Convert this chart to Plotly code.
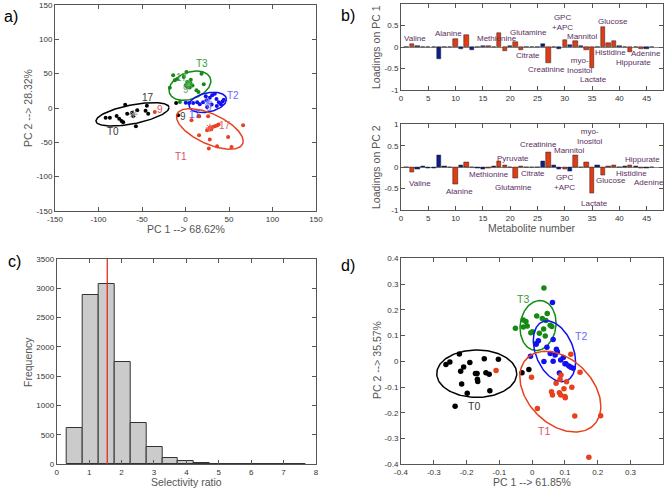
import numpy as np
import plotly.graph_objects as go

# ---------------- Panel a: PCA scores (PC1 68.62 %, PC2 28.32 %) ----------------
a_t0_x = [-91.8, -86.9, -79.2, -76.2, -73.5, -71.6, -69.3, -67.0, -61.2, -60.1, -57.0, -55.5, -45.9, -44.4, -42.9, -10.8, -8.5]
a_t0_y = [-14.1, -14.1, -11.7, -15.5, -18.9, -20.9, 4.9, -8.3, -6.8, -11.7, -26.7, -3.4, -3.9, 3.4, -8.3, 7.3, -10.6]
a_t3_x = [-18.0, -14.2, -12.3, -9.7, -2.0, 1.1, 1.9, 4.1, 5.7, 6.1, 0.3, 1.9, 4.9, 8.0, 12.6, 14.9, 18.4, 21.0, -6.5]
a_t3_y = [29.6, 47.6, 40.3, 41.8, 45.1, 52.4, 37.8, 35.5, 36.4, 41.3, 33.0, 30.6, 29.7, 32.6, 25.8, 23.3, 50.0, 34.5, 8.7]
a_t2_x = [0.3, 4.1, 8.8, 13.4, 16.4, 20.2, 24.1, 27.9, 30.6, 33.7, 35.6, 38.3, 40.6, 42.5, 24.8, 15.6, 23.3, 30.0, 36.0, 44.0]
a_t2_y = [7.8, 7.3, 7.3, 8.3, 5.4, 8.3, 11.2, 15.1, 18.5, 20.9, 13.1, 8.3, 5.4, 9.3, 1.5, -12.1, 17.0, 5.0, 3.0, 12.0]
a_t1_x = [-35.3, 6.9, 15.3, 26.0, 15.6, 24.8, 27.9, 31.0, 33.7, 36.0, 27.9, 36.3, 52.9, 49.0, 66.2, 26.8, 29.5, 38.0]
a_t1_y = [-5.8, -17.9, -12.1, -12.1, -39.7, -32.5, -28.5, -27.6, -26.6, -25.5, -46.0, -55.7, -56.7, -42.2, -25.2, -59.1, -31.0, -24.0]
a_means_x = [-60.0, 28.0, 26.0, 4.0]
a_means_y = [-9.0, -29.0, 9.0, 35.0]
# ellipse: centre x, centre y, sd x, sd y, correlation
a_ell = {"T0": (-60.9, -9.2, 42.0, 17.0, 0.57), "T1": (28.0, -30.5, 38.3, 29.6, -0.6),
         "T2": (25.6, 8.1, 21.5, 14.8, 0.3), "T3": (5.1, 32.5, 24.0, 21.3, 0.32)}
a_group_labels = ["T0", "T1", "T2", "T3"]
a_group_label_x = [-83.8, -5.7, 54.7, 18.4]
a_group_label_y = [-34.0, -70.3, 18.5, 64.6]
a_sample_labels = ["17", "9", "9", "17", "9", "17", "9", "17"]
a_sample_x = [-42.9, -29.5, -2.8, 10.7, 27.2, -3.9, 1.1, 45.2]
a_sample_y = [15.0, -2.4, -13.1, -9.6, 0.6, 45.1, 26.8, -25.2]
a_sample_colors = ["#333333", "#e05050", "#444444", "#5060ff", "#7070e0", "#50a050", "#70a070", "#e06060"]

# ---------------- Panel b: loadings ----------------
metabolite = list(range(1, 47))
pc1_loadings = [0.0, 0.07, 0.03, 0.0, -0.01, 0.0, -0.27, 0.0, 0.0, 0.19, -0.04, 0.27, -0.07, 0.0, 0.03, 0.03,
                0.01, 0.33, -0.10, 0.03, 0.11, -0.06, 0.0, 0.0, 0.0, 0.06, -0.37, -0.01, -0.04, 0.16, 0.04, 0.13,
                0.03, -0.06, -0.48, 0.0, 0.46, 0.09, 0.14, 0.03, -0.01, -0.12, 0.0, -0.04, -0.04, 0.0]
pc2_loadings = [0.0, -0.12, -0.04, 0.01, -0.02, -0.02, 0.27, 0.01, -0.01, -0.40, 0.04, 0.11, -0.01, -0.02, -0.06,
                -0.03, 0.03, 0.14, 0.05, -0.01, -0.25, 0.01, 0.0, 0.0, 0.0, 0.14, 0.35, 0.04, -0.05, -0.04, -0.10,
                0.28, 0.0, 0.11, -0.62, 0.05, -0.19, 0.03, 0.05, 0.0, 0.01, 0.04, 0.01, -0.02, -0.02, 0.0]
significant = [2, 10, 12, 16, 18, 19, 21, 22, 27, 30, 32, 34, 35, 37, 38, 39, 42, 44]
pc1_names = ["Valine", "Alanine", "Methionine", "Glutamine", "Citrate", "Creatinine", "GPC<br>+APC", "Mannitol",
             "myo-<br>Inositol", "Lactate", "Glucose", "Histidine", "Adenine", "Hippurate"]
pc1_name_x = [2.6, 8.7, 17.5, 23.3, 23.2, 26.7, 29.6, 33.2, 32.8, 35.2, 38.9, 38.3, 44.9, 42.6]
pc1_name_y = [0.2, 0.32, 0.19, 0.34, -0.2, -0.52, 0.57, 0.24, -0.43, -0.75, 0.59, -0.125, -0.16, -0.37]
pc2_names = ["Valine", "Alanine", "Methionine", "Glutamine", "Pyruvate", "Citrate", "Creatinine", "Mannitol",
             "myo-<br>Inositol", "GPC<br>+APC", "Lactate", "Glucose", "Histidine", "Hippurate", "Adenine"]
pc2_name_x = [3.5, 10.7, 16.2, 20.7, 20.5, 24.1, 25.1, 30.7, 34.7, 29.9, 35.5, 38.4, 42.3, 44.3, 45.4]
pc2_name_y = [-0.38, -0.58, -0.18, -0.47, 0.21, -0.14, 0.52, 0.40, 0.71, -0.37, -0.84, -0.3, -0.15, 0.17, -0.36]

# ---------------- Panel c: selectivity ratio histogram ----------------
sr_bin_start = 0.31
sr_bin_width = 0.491
sr_counts = [625, 2880, 3070, 1750, 705, 290, 108, 62, 20, 8, 6, 5, 4, 4, 3]
sr_marker = 1.56

# ---------------- Panel d: PCA scores (PC1 61.85 %, PC2 35.57 %) ----------------
d_t0_x = [-0.263, -0.251, -0.222, -0.218, -0.209, -0.215, -0.198, -0.190, -0.173, -0.168, -0.167, -0.166, -0.146,
          -0.141, -0.131, -0.129, -0.103, -0.235, -0.031, -0.010]
d_t0_y = [-0.012, -0.003, 0.028, -0.039, -0.022, -0.088, -0.124, -0.005, -0.047, -0.047, -0.070, -0.078, 0.010,
          -0.044, -0.050, -0.114, 0.008, -0.175, -0.044, -0.032]
d_t3_x = [0.036, -0.051, -0.027, -0.019, -0.027, -0.015, 0.014, 0.031, 0.046, 0.042, -0.004, 0.001, 0.022, 0.040,
          0.013, 0.060, 0.055, 0.035]
d_t3_y = [0.285, 0.128, 0.160, 0.155, 0.133, 0.137, 0.176, 0.166, 0.186, 0.158, 0.111, 0.115, 0.109, 0.098, 0.070,
          0.135, 0.140, 0.125]
d_t2_x = [0.062, 0.012, 0.019, 0.064, 0.074, 0.077, 0.070, 0.087, 0.100, 0.103, 0.112, 0.118, 0.125, 0.036, 0.064,
          0.083, -0.005, 0.055, 0.045, 0.095]
d_t2_y = [0.228, 0.066, 0.080, 0.085, 0.047, 0.037, 0.024, 0.005, -0.010, -0.010, -0.018, -0.023, -0.027, -0.001,
          0.000, -0.045, 0.020, 0.030, 0.055, 0.015]
d_t1_x = [-0.110, -0.002, 0.016, 0.059, 0.062, 0.073, 0.085, 0.088, 0.083, 0.087, 0.097, 0.100, 0.101, 0.105, 0.121,
          0.118, 0.146, 0.130, 0.209, 0.173]
d_t1_y = [-0.036, -0.062, -0.183, -0.118, -0.131, -0.085, -0.070, -0.053, -0.122, -0.131, -0.107, -0.137, -0.142,
          -0.079, -0.101, 0.027, -0.043, -0.212, -0.211, -0.373]
d_ell = {"T0": (-0.169, -0.048, 0.122, 0.092, 0.0), "T1": (0.086, -0.118, 0.1235, 0.157, -0.363),
         "T2": (0.068, 0.039, 0.0645, 0.118, -0.354), "T3": (0.018, 0.139, 0.055, 0.097, 0.1)}
d_group_labels = ["T0", "T1", "T2", "T3"]
d_group_label_x = [-0.177, 0.036, 0.148, -0.029]
d_group_label_y = [-0.172, -0.271, 0.100, 0.241]

# ---------------- styling ----------------
W, H = 669, 489
FONT = "Arial, Liberation Sans, sans-serif"
C_BLACK, C_RED, C_BLUE, C_GREEN = "#000000", "#e8401c", "#1010f0", "#138a13"
GROUP_COL = {"T0": C_BLACK, "T1": C_RED, "T2": C_BLUE, "T3": C_GREEN}
LABEL_COL = {"T0": "#333333", "T1": "#e05060", "T2": "#6a6aff", "T3": "#3a9a3a"}
BAR_RED, BAR_BLUE = "#e23a12", "#0a1f8c"
TXT = "#333333"


def ellipse(cx, cy, sx, sy, r, n=150):
    t = np.linspace(0, 2 * np.pi, n)
    x = cx + sx * np.cos(t)
    y = cy + sy * (r * np.cos(t) + np.sqrt(1 - r * r) * np.sin(t))
    return x, y


def px_dom_x(a, b):
    return [a / W, b / W]


def px_dom_y(top, bottom):
    return [1 - bottom / H, 1 - top / H]


def fmt(v):
    s = ("%g" % round(v, 6))
    return "0" if s in ("-0", "0") else s


fig = go.Figure()

# ---- panel a
for g, xs, ys in [("T0", a_t0_x, a_t0_y), ("T3", a_t3_x, a_t3_y), ("T2", a_t2_x, a_t2_y), ("T1", a_t1_x, a_t1_y)]:
    ex, ey = ellipse(*a_ell[g])
    fig.add_trace(go.Scatter(x=ex, y=ey, mode="lines", line=dict(color=GROUP_COL[g], width=1.5),
                             xaxis="x", yaxis="y", hoverinfo="skip"))
    fig.add_trace(go.Scatter(x=xs, y=ys, mode="markers", marker=dict(color=GROUP_COL[g], size=4),
                             xaxis="x", yaxis="y"))
fig.add_trace(go.Scatter(x=a_means_x, y=a_means_y, mode="markers",
                         marker=dict(symbol="asterisk-open", size=7,
                                     color=["#888888", "#f06050", "#8080ff", "#60b060"],
                                     line=dict(width=1)),
                         xaxis="x", yaxis="y"))

# ---- panel b
bar_cols = [BAR_RED if m in significant else BAR_BLUE for m in metabolite]
for vals, xa, ya in [(pc1_loadings, "x2", "y2"), (pc2_loadings, "x3", "y3")]:
    fig.add_trace(go.Bar(x=metabolite, y=vals, width=0.8, marker=dict(color=bar_cols, line=dict(color="#222", width=0.5)),
                         xaxis=xa, yaxis=ya))

# ---- panel c
sr_centers = [sr_bin_start + sr_bin_width * (i + 0.5) for i in range(len(sr_counts))]
fig.add_trace(go.Bar(x=sr_centers, y=sr_counts, width=sr_bin_width,
                     marker=dict(color="#cbcbcb", line=dict(color="#333333", width=1)), xaxis="x4", yaxis="y4"))
fig.add_trace(go.Scatter(x=[sr_marker, sr_marker], y=[0, 3500], mode="lines", line=dict(color="#e0301c", width=1.3),
                         xaxis="x4", yaxis="y4"))

# ---- panel d
for g, xs, ys in [("T0", d_t0_x, d_t0_y), ("T3", d_t3_x, d_t3_y), ("T2", d_t2_x, d_t2_y), ("T1", d_t1_x, d_t1_y)]:
    ex, ey = ellipse(*d_ell[g])
    fig.add_trace(go.Scatter(x=ex, y=ey, mode="lines", line=dict(color=GROUP_COL[g], width=1.5),
                             xaxis="x5", yaxis="y5", hoverinfo="skip"))
    fig.add_trace(go.Scatter(x=xs, y=ys, mode="markers", marker=dict(color=GROUP_COL[g], size=5.5),
                             xaxis="x5", yaxis="y5"))


def axis(dom, anchor, rng, tickvals, show_zero=False):
    return dict(domain=dom, anchor=anchor, range=rng, tickvals=tickvals, ticktext=[fmt(v) for v in tickvals],
                ticks="inside", ticklen=4, tickcolor="#555", showline=True, linecolor="#555", linewidth=1,
                mirror="ticks", showgrid=False, zeroline=show_zero, zerolinecolor="#8a8a8a", zerolinewidth=1.2,
                automargin=False, tickfont=dict(size=8, color=TXT, family=FONT))


ab_ticks = list(np.arange(-150, 151, 50))
b_xt = list(range(0, 46, 5))
b_yt = [-1, -0.5, 0, 0.5, 1]
d_t = [round(v, 1) for v in np.arange(-0.4, 0.41, 0.1)]

fig.update_layout(
    template="none",
    width=W, height=H, margin=dict(l=0, r=0, t=0, b=0, pad=0, autoexpand=False), showlegend=False,
    paper_bgcolor="white", plot_bgcolor="white", bargap=0, font=dict(family=FONT),
    xaxis=axis(px_dom_x(55, 316), "y", [-150, 150], ab_ticks),
    yaxis=axis(px_dom_y(5, 211), "x", [-150, 150], ab_ticks),
    xaxis2=axis(px_dom_x(401, 663), "y2", [0, 48], b_xt),
    yaxis2=axis(px_dom_y(4, 90), "x2", [-1, 1], b_yt, True),
    xaxis3=axis(px_dom_x(401, 663), "y3", [0, 48], b_xt),
    yaxis3=axis(px_dom_y(124.3, 210), "x3", [-1, 1], b_yt, True),
    xaxis4=axis(px_dom_x(56.7, 316), "y4", [0, 8], list(range(0, 9))),
    yaxis4=axis(px_dom_y(259, 464.3), "x4", [0, 3500], list(range(0, 3501, 500))),
    xaxis5=axis(px_dom_x(401, 663.3), "y5", [-0.4, 0.4], d_t),
    yaxis5=axis(px_dom_y(258.3, 464.3), "x5", [-0.4, 0.4], d_t),
)

ann = []


def txt(x, y, s, xref, yref, size=10, color=TXT, angle=0, xanchor="center"):
    ann.append(dict(x=x, y=y, text=s, xref=xref, yref=yref, showarrow=False, textangle=angle, xanchor=xanchor,
                    yanchor="middle", font=dict(size=size, color=color, family=FONT)))


# panel letters
for s, px, py in [("a)", 11, 17), ("b)", 348, 15), ("c)", 14, 261), ("d)", 348, 265)]:
    txt(px / W, 1 - py / H, s, "paper", "paper", size=16, color="#000")

# axis titles
AX = "#555555"
txt(185.5 / W, 1 - 229 / H, "PC 1 --> 68.62%", "paper", "paper", 10.5, AX)
txt(28 / W, 1 - 108 / H, "PC 2 --> 28.32%", "paper", "paper", 10.5, AX, -90)
txt(376 / W, 1 - 47 / H, "Loadings on PC 1", "paper", "paper", 10.5, AX, -90)
txt(376 / W, 1 - 167 / H, "Loadings on PC 2", "paper", "paper", 10.5, AX, -90)
txt(531 / W, 1 - 228 / H, "Metabolite number", "paper", "paper", 10.5, AX)
txt(186 / W, 1 - 482 / H, "Selectivity ratio", "paper", "paper", 10.5, AX)
txt(28 / W, 1 - 362 / H, "Frequency", "paper", "paper", 10.5, AX, -90)
txt(532 / W, 1 - 482 / H, "PC 1 --> 61.85%", "paper", "paper", 10.5, AX)
txt(377 / W, 1 - 360 / H, "PC 2 --> 35.57%", "paper", "paper", 10.5, AX, -90)

# panel a annotations
for s, x, y in zip(a_group_labels, a_group_label_x, a_group_label_y):
    txt(x, y, s, "x", "y", 10, LABEL_COL[s])
for s, x, y, c in zip(a_sample_labels, a_sample_x, a_sample_y, a_sample_colors):
    txt(x, y, s, "x", "y", 10, c)

# panel b metabolite names
NAMECOL = "#5a3062"
for s, x, y in zip(pc1_names, pc1_name_x, pc1_name_y):
    txt(x, y, s, "x2", "y2", 8, NAMECOL)
for s, x, y in zip(pc2_names, pc2_name_x, pc2_name_y):
    txt(x, y, s, "x3", "y3", 8, NAMECOL)

# panel d group labels
for s, x, y in zip(d_group_labels, d_group_label_x, d_group_label_y):
    txt(x, y, s, "x5", "y5", 10.5, LABEL_COL[s])

fig.update_layout(annotations=ann)
fig.write_html("out.html", config={"displayModeBar": False},
               post_script="document.body.style.margin='0px';")
